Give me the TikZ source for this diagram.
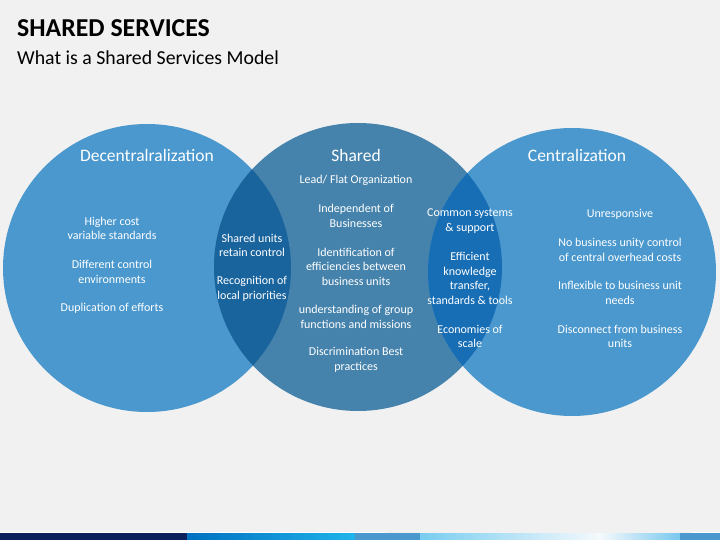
\documentclass[tikz,border=0pt]{standalone}
\usepackage{fontspec}
\setmainfont{Carlito}
\usetikzlibrary{positioning}
\definecolor{pagebg}{HTML}{F1F1F1}
\definecolor{sideblue}{HTML}{4A98CE}
\definecolor{midblue}{HTML}{4683AC}
\definecolor{lensleft}{HTML}{1A649E}
\definecolor{lensright}{HTML}{186EB5}
\definecolor{navy}{HTML}{0B1F5C}

\begin{document}
\begin{tikzpicture}[x=1pt,y=-1pt,
  venn/.style={circle,minimum size=288pt,inner sep=0pt},
  head/.style={text=white,inner sep=0pt,font=\fontsize{17.5}{20}\selectfont},
  txt/.style={text=white,align=center,inner sep=0pt,font=\fontsize{12}{14.5}\selectfont}]
% page
\fill[pagebg] (0,0) rectangle (720,540);
\useasboundingbox (0,0) rectangle (720,540);

% titles
\node[anchor=base west,inner sep=0pt,font=\fontsize{25.8}{30}\selectfont\bfseries] (title) at (17,37) {SHARED SERVICES};
\node[anchor=base west,inner sep=0pt,font=\fontsize{19.8}{23}\selectfont] (subtitle) at (17,65) {What is a Shared Services Model};

% circles
\node[venn,fill=sideblue] (decentral) at (147,268) {};
\node[venn,fill=midblue] (shared) at (358,267) {};
\node[venn,fill=sideblue] (central) at (572,272) {};

% overlaps
\begin{scope}
\clip (147,268) circle (144);
\fill[lensleft] (358,267) circle (144);
\end{scope}
\begin{scope}
\clip (572,272) circle (144);
\fill[lensright] (358,267) circle (144);
\end{scope}

% headings
\node[head] (decentralhead) at (147,155) {Decentralralization};
\node[head] (sharedhead) at (356,155) {Shared};
\node[head] (centralhead) at (577,155) {Centralization};

% left circle
\node[txt] (cost) at (112,228.5) {Higher cost\\variable standards};
\node[txt] (control) at (112,272) {Different control\\environments};
\node[txt] (efforts) at (112,308) {Duplication of efforts};

% left overlap
\node[txt] (retain) at (252,245.5) {Shared units\\retain control};
\node[txt] (local) at (252,289) {Recognition of\\local priorities};

% middle circle
\node[txt] (lead) at (356,180) {Lead/ Flat Organization};
\node[txt] (indep) at (356,216) {Independent of\\Businesses};
\node[txt] (ident) at (356,266.5) {Identification of\\efficiencies between\\business units};
\node[txt] (underst) at (356,317) {understanding of group\\functions and missions};
\node[txt] (discr) at (356,360) {Discrimination Best\\practices};

% right overlap
\node[txt] (common) at (470,221) {Common systems\\\& support};
\node[txt] (knowl) at (470,278.5) {Efficient\\knowledge\\transfer,\\standards \& tools};
\node[txt] (scale) at (470,336.5) {Economies of\\scale};

% right circle
\node[txt] (unresp) at (620,214) {Unresponsive};
\node[txt] (overhead) at (620,250) {No business unity control\\of central overhead costs};
\node[txt] (inflex) at (620,293) {Inflexible to business unit\\needs};
\node[txt] (disconn) at (620,336.5) {Disconnect from business\\units};

% bottom bar
\fill[white] (0,532) rectangle (385,533);
\fill[white] (692,532) rectangle (720,533);
\fill[navy] (0,533) rectangle (187,540);
\shade[left color={rgb,255:red,0;green,112;blue,192},right color={rgb,255:red,31;green,180;blue,234}] (187,533) rectangle (355,540);
\fill[sideblue] (355,533) rectangle (420,540);
\shade[left color={rgb,255:red,120;green,205;blue,240},right color={rgb,255:red,245;green,249;blue,252}] (420,533) rectangle (600,540);
\shade[left color={rgb,255:red,245;green,249;blue,252},right color={rgb,255:red,120;green,200;blue,238}] (600,533) rectangle (680,540);
\fill[sideblue] (680,533) rectangle (720,540);
\end{tikzpicture}
\end{document}
